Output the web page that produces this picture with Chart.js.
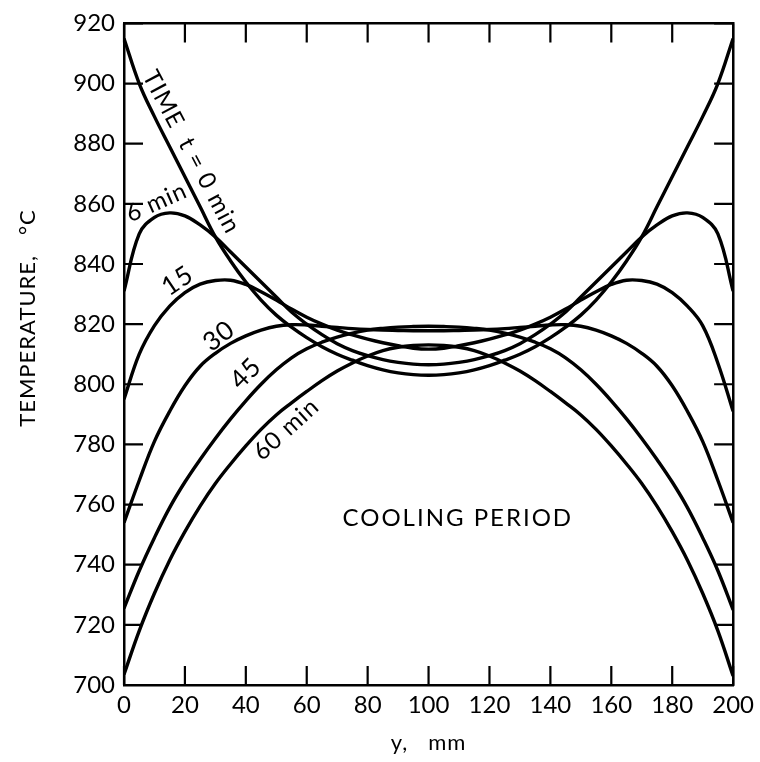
<!DOCTYPE html>
<html lang="en">
<head>
<meta charset="UTF-8">
<title>Cooling period temperature profiles</title>
<script src="https://cdn.jsdelivr.net/npm/chart.js"></script>
<style>
    body {
        margin: 0;
        background: #fff;
    }

    .wrap {
        width: 760px;
        height: 762px;
    }
</style>
</head>
<body>
<div class="wrap"><canvas id="profileChart" width="760" height="762"></canvas></div>
<script>
// distance across the slab, mm
const positions = [0, 5, 10, 15, 20, 25, 30, 35, 40, 45, 50, 55, 60, 65, 70, 75, 80, 85, 90, 95, 100,
    105, 110, 115, 120, 125, 130, 135, 140, 145, 150, 155, 160, 165, 170, 175, 180, 185, 190, 195, 200];

// temperature profiles, deg C, one list per time after start of cooling
const temp0 = [915, 900, 889, 879, 869, 859, 849, 841, 834, 828, 823, 819, 815.5, 812.5, 810, 808, 806.2, 804.8, 803.8, 803.2, 803,
    803.2, 803.8, 804.8, 806.2, 808, 810, 812.5, 815.5, 819, 823, 828, 834, 841, 849, 859, 869, 879, 889, 900, 915];
const temp6 = [831, 850, 855.5, 857, 856, 853, 849, 844, 839, 834, 829, 824, 820, 816.5, 813.5, 811.2, 809.5, 808.2, 807.3, 806.7, 806.5,
    806.7, 807.3, 808.2, 809.5, 811.2, 813.5, 816.5, 820, 824, 829, 834, 839, 844, 849, 853, 856, 857, 855.5, 850, 831];
const temp15 = [795, 810, 819.5, 826, 830.5, 833.3, 834.5, 834.6, 833.2, 830.8, 828, 825, 822.3, 820, 818, 816.4, 815, 813.8, 812.8, 812, 811.7,
    812, 812.8, 813.8, 815, 816.4, 818, 820, 822.3, 825, 828, 830.8, 833.2, 834.6, 834.5, 833.3, 830.5, 826, 819.5, 807, 791];
const temp30 = [754, 768, 781, 791, 799.5, 806, 810.3, 813.6, 816.1, 818, 819.3, 819.8, 819.7, 819.3, 818.9, 818.5, 818.2, 818, 817.9, 817.8, 817.8,
    817.8, 817.9, 818, 818.2, 818.5, 818.9, 819.3, 819.7, 819.8, 819.3, 818, 816.1, 813.6, 810.3, 806, 799.5, 791, 781, 768, 754];
const temp45 = [725.5, 738, 749, 759, 767.5, 775, 782, 788.5, 794.5, 800, 804.8, 808.8, 811.8, 814, 815.7, 817, 818, 818.6, 819, 819.2, 819.3,
    819.2, 819, 818.6, 818, 817, 815.7, 814, 811.8, 808.8, 804.8, 800, 794.5, 788.5, 782, 775, 767.5, 759, 749, 738, 725];
const temp60 = [703.5, 718, 730.5, 741.5, 751, 759.5, 767, 773.5, 779.5, 785, 789.8, 793.8, 797.6, 801.2, 804.4, 807.1, 809.4, 811.2, 812.3, 812.9, 813.1,
    812.9, 812.3, 811.2, 809.4, 807.1, 804.4, 801.2, 797.6, 793.8, 789.8, 785, 779.5, 773.5, 767, 759.5, 751, 741.5, 730.5, 718, 703];

const xTicks = [0, 20, 40, 60, 80, 100, 120, 140, 160, 180, 200];
const yTicks = [700, 720, 740, 760, 780, 800, 820, 840, 860, 880, 900, 920];

// text placed along the curves: [text, x mm, temp, angle deg, size px, spacing px]
const curveNotes = [
    ['TIME  t = 0 min', 22.1, 877.2, 62, 24, 1.2],
    ['6 min', 10.7, 860.5, -24, 24, 1],
    ['15', 17.6, 834.4, -34, 26, 1],
    ['30', 31.2, 816, -37, 26, 1],
    ['45', 40, 803.6, -45, 26, 1],
    ['60 min', 53.3, 785, -42, 24, 1],
    ['COOLING PERIOD', 109.6, 755.6, 0, 24, 2]
];

const FONT = 'Lato, "Open Sans", sans-serif';

function toPoints(values) {
    return positions.map((p, i) => ({ x: p, y: values[i] }));
}

const series = [temp0, temp6, temp15, temp30, temp45, temp60];

// inward tick marks on all four sides, axis titles and curve notes
const framePlugin = {
    id: 'framePlugin',
    afterDraw(chart) {
        const ctx = chart.ctx;
        const a = chart.chartArea;
        const xs = chart.scales.x;
        const ys = chart.scales.y;
        const len = 19;
        ctx.save();
        ctx.strokeStyle = '#000';
        ctx.lineWidth = 2.2;
        ctx.beginPath();
        xTicks.forEach(v => {
            const px = xs.getPixelForValue(v);
            ctx.moveTo(px, a.bottom);
            ctx.lineTo(px, a.bottom - len);
            ctx.moveTo(px, a.top);
            ctx.lineTo(px, a.top + len);
        });
        yTicks.forEach(v => {
            const py = ys.getPixelForValue(v);
            ctx.moveTo(a.left, py);
            ctx.lineTo(a.left + len, py);
            ctx.moveTo(a.right, py);
            ctx.lineTo(a.right - len, py);
        });
        ctx.stroke();

        ctx.fillStyle = '#000';
        ctx.textAlign = 'center';
        ctx.textBaseline = 'middle';
        curveNotes.forEach(([text, x, y, angle, size, spacing]) => {
            ctx.save();
            ctx.translate(xs.getPixelForValue(x), ys.getPixelForValue(y));
            ctx.rotate(angle * Math.PI / 180);
            ctx.font = size + 'px ' + FONT;
            ctx.letterSpacing = spacing + 'px';
            ctx.fillText(text, 0, 0);
            ctx.restore();
        });

        // axis titles
        ctx.font = '22px ' + FONT;
        ctx.letterSpacing = '1px';
        ctx.fillText('y,   mm', (a.left + a.right) / 2, 743);
        ctx.save();
        ctx.translate(28, 318);
        ctx.rotate(-Math.PI / 2);
        ctx.fillText('TEMPERATURE,   \u00B0C', 0, 0);
        ctx.restore();
        ctx.restore();
    }
};

const chart = new Chart(document.getElementById('profileChart'), {
    type: 'line',
    data: {
        datasets: series.map(values => ({
            data: toPoints(values),
            borderColor: '#000',
            borderWidth: 3.4,
            pointRadius: 0,
            fill: false,
            tension: 0.4
        }))
    },
    options: {
        responsive: false,
        animation: false,
        devicePixelRatio: 1,
        layout: { padding: 0 },
        plugins: {
            legend: { display: false },
            tooltip: { enabled: false }
        },
        scales: {
            x: {
                type: 'linear',
                min: 0,
                max: 200,
                ticks: {
                    stepSize: 20,
                    color: '#000',
                    padding: 6,
                    font: { family: FONT, size: 24 }
                },
                grid: { display: false, drawTicks: false },
                border: { display: true, color: '#000', width: 2.5 },
                afterFit(scale) { scale.height = 77; }
            },
            x2: {
                type: 'linear',
                position: 'top',
                min: 0,
                max: 200,
                ticks: { display: false },
                grid: { display: false, drawTicks: false },
                border: { display: true, color: '#000', width: 2.5 },
                afterFit(scale) { scale.height = 12; }
            },
            y: {
                type: 'linear',
                min: 700,
                max: 920,
                ticks: {
                    stepSize: 20,
                    color: '#000',
                    padding: 9,
                    font: { family: FONT, size: 24 }
                },
                grid: { display: false, drawTicks: false },
                border: { display: true, color: '#000', width: 2.5 },
                afterFit(scale) { scale.width = 124; }
            },
            y2: {
                type: 'linear',
                position: 'right',
                min: 700,
                max: 920,
                ticks: { display: false },
                grid: { display: false, drawTicks: false },
                border: { display: true, color: '#000', width: 2.5 },
                afterFit(scale) { scale.width = 21; }
            }
        }
    },
    plugins: [framePlugin]
});
</script>
</body>
</html>
